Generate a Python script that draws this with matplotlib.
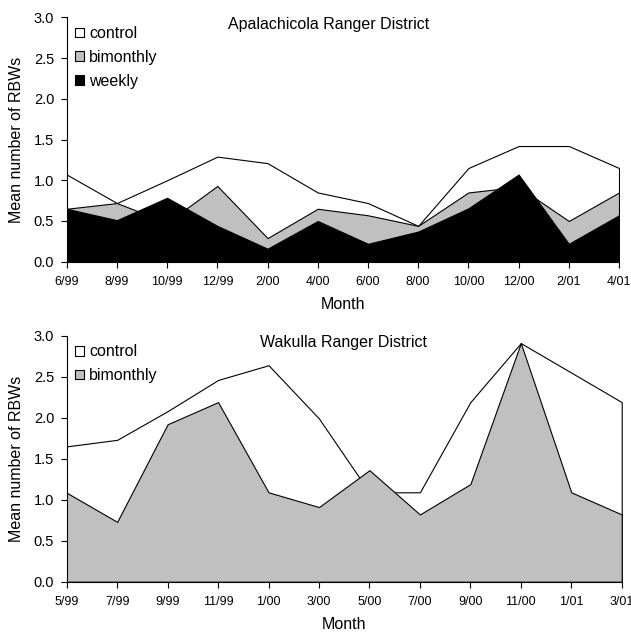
import matplotlib
matplotlib.use("Agg")
import matplotlib.pyplot as plt
from matplotlib.patches import Patch
import numpy as np

plt.rcParams["font.family"] = ["Liberation Sans", "DejaVu Sans"]

# Apalachicola Ranger District
apa_months = ["6/99", "8/99", "10/99", "12/99", "2/00", "4/00",
              "6/00", "8/00", "10/00", "12/00", "2/01", "4/01"]
apa_control = [1.07, 0.72, 1.00, 1.29, 1.21, 0.85, 0.72, 0.44, 1.15, 1.42, 1.42, 1.15]
apa_bimonthly = [0.65, 0.72, 0.48, 0.93, 0.29, 0.65, 0.57, 0.44, 0.85, 0.92, 0.50, 0.85]
apa_weekly = [0.65, 0.51, 0.785, 0.44, 0.16, 0.50, 0.22, 0.37, 0.655, 1.07, 0.22, 0.57]

# Wakulla Ranger District
wak_months = ["5/99", "7/99", "9/99", "11/99", "1/00", "3/00",
              "5/00", "7/00", "9/00", "11/00", "1/01", "3/01"]
wak_control = [1.65, 1.73, 2.08, 2.46, 2.64, 1.99, 1.09, 1.09, 2.19, 2.91, 2.55, 2.19]
wak_bimonthly = [1.085, 0.73, 1.92, 2.19, 1.09, 0.91, 1.36, 0.82, 1.19, 2.91, 1.09, 0.82]

GRAY = "#c0c0c0"


def setup(ax, months, title, tx):
    x = np.arange(len(months))
    ax.set_xlim(0, len(months) - 1)
    ax.set_ylim(0, 3.0)
    ax.set_xticks(x)
    ax.set_xticklabels(months, fontsize=9)
    yt = np.arange(0, 3.01, 0.5)
    ax.set_yticks(yt)
    ax.set_yticklabels(["%.1f" % v for v in yt], fontsize=10.5)
    ax.tick_params(axis="x", direction="out", length=4, width=0.8, pad=6)
    ax.tick_params(axis="y", direction="out", length=4, width=0.8, pad=5)
    for s in ["top", "right"]:
        ax.spines[s].set_visible(False)
    for s in ["left", "bottom"]:
        ax.spines[s].set_linewidth(0.8)
    ax.set_xlabel("Month", fontsize=11.5, labelpad=7)
    ax.set_ylabel("Mean number of RBWs", fontsize=11.5, labelpad=7)
    ax.text(tx, 0.972, title, transform=ax.transAxes, ha="center", va="center", fontsize=11.5)


def add_legend(ax, handles):
    ax.legend(handles=handles, loc="upper left", bbox_to_anchor=(0.0, 1.0), frameon=False,
              fontsize=11.5, handlelength=0.55, handleheight=0.55, handletextpad=0.3,
              labelspacing=0.55, borderaxespad=0.15)


fig = plt.figure(figsize=(6.31, 6.34), dpi=100)

# top panel
ax1 = fig.add_axes([0.1057, 0.5872, 0.8753, 0.3855])
x1 = np.arange(len(apa_months))
ax1.fill_between(x1, 0, apa_control, facecolor="white", edgecolor="black", linewidth=0.8)
ax1.fill_between(x1, 0, apa_bimonthly, facecolor=GRAY, edgecolor="black", linewidth=0.8)
ax1.fill_between(x1, 0, apa_weekly, facecolor="black", edgecolor="black", linewidth=0.8)
setup(ax1, apa_months, "Apalachicola Ranger District", 0.475)
add_legend(ax1, [Patch(facecolor="white", edgecolor="black", linewidth=0.8, label="control"),
                 Patch(facecolor=GRAY, edgecolor="black", linewidth=0.8, label="bimonthly"),
                 Patch(facecolor="black", edgecolor="black", linewidth=0.8, label="weekly")])

# bottom panel
ax2 = fig.add_axes([0.1057, 0.0825, 0.8796, 0.388])
x2 = np.arange(len(wak_months))
ax2.fill_between(x2, 0, wak_control, facecolor="white", edgecolor="black", linewidth=0.8)
ax2.fill_between(x2, 0, wak_bimonthly, facecolor=GRAY, edgecolor="black", linewidth=0.8)
setup(ax2, wak_months, "Wakulla Ranger District", 0.499)
add_legend(ax2, [Patch(facecolor="white", edgecolor="black", linewidth=0.8, label="control"),
                 Patch(facecolor=GRAY, edgecolor="black", linewidth=0.8, label="bimonthly")])

fig.savefig("out.png", dpi=100)
